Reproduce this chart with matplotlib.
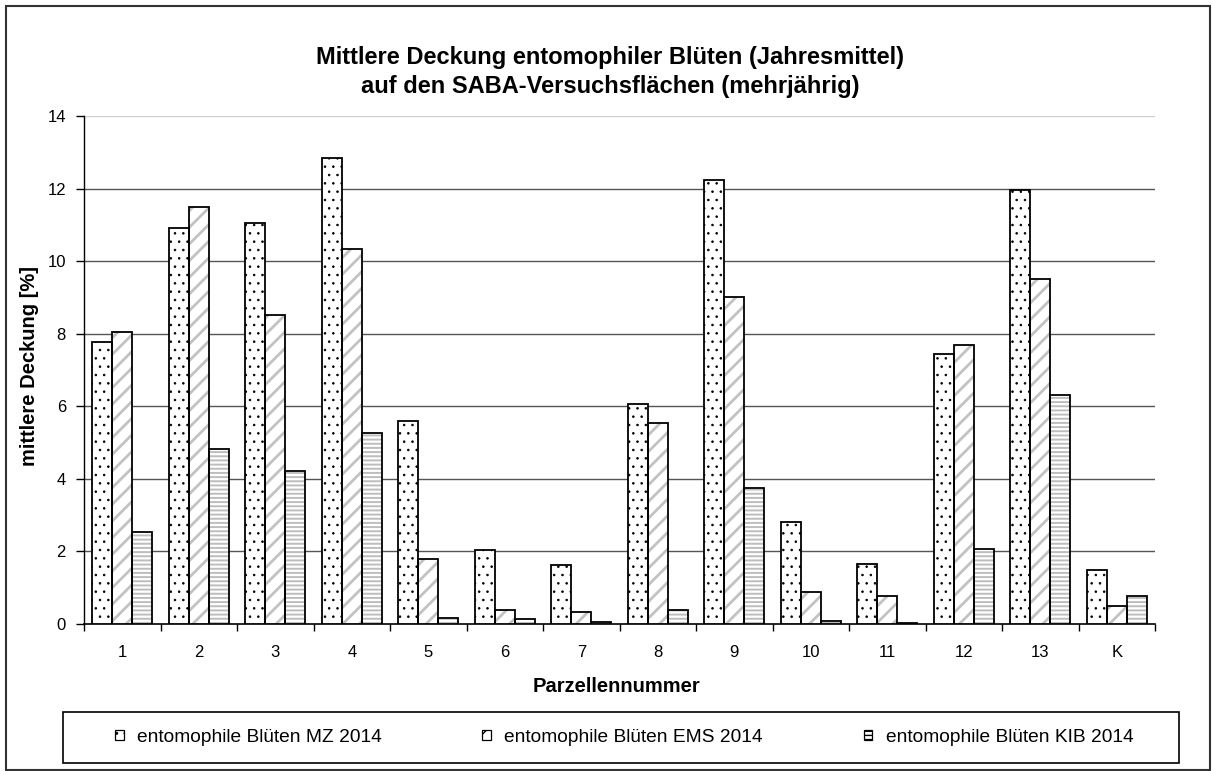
import numpy as np
import matplotlib.pyplot as plt
from matplotlib.patches import Rectangle, Patch

plt.rcParams['font.family'] = ['Liberation Sans', 'DejaVu Sans']

# ------------ data ----------------------------------
parzellen = ['1', '2', '3', '4', '5', '6', '7', '8', '9', '10', '11', '12', '13', 'K']
mz_2014 = [7.77, 10.91, 11.04, 12.83, 5.6, 2.04, 1.63, 6.05, 12.25, 2.8, 1.65, 7.45, 11.95, 1.5]
ems_2014 = [8.05, 11.5, 8.52, 10.34, 1.8, 0.39, 0.34, 5.55, 9.0, 0.87, 0.78, 7.68, 9.5, 0.5]
kib_2014 = [2.53, 4.82, 4.23, 5.27, 0.17, 0.13, 0.05, 0.39, 3.75, 0.09, 0.04, 2.07, 6.3, 0.78]
series_names = ['entomophile Blüten MZ 2014',
                'entomophile Blüten EMS 2014',
                'entomophile Blüten KIB 2014']
# ----------------------------------------------------

W, H = 1212, 771
fig = plt.figure(figsize=(W / 100, H / 100), dpi=100)
ax = fig.add_axes([84 / W, 1 - 624 / H, (1155 - 84) / W, (624 - 116) / H])

x = np.arange(len(parzellen))
bw = 0.26
# (hatch colour, hatch, hatch linewidth)
styles = [('black', '..', 0.6), ('#c2c2c2', '//', 2.0), ('#bdbdbd', '----', 1.4)]
handles = []
for i, (vals, (hc, hatch, hlw)) in enumerate(zip([mz_2014, ems_2014, kib_2014], styles)):
    pos = x + (i - 1) * bw
    with plt.rc_context({'hatch.linewidth': hlw}):
        # hatch layer in its own colour, then black outline on top
        ax.bar(pos, vals, bw, facecolor='white', edgecolor=hc, hatch=hatch,
               linewidth=0, zorder=3)
        ax.bar(pos, vals, bw, facecolor='none', edgecolor='black',
               linewidth=1.3, zorder=4)
        try:
            h = Patch(facecolor='white', edgecolor='black', hatch=hatch,
                      hatchcolor=hc, linewidth=0.9)
        except (AttributeError, TypeError):
            h = Patch(facecolor='white', edgecolor='black', hatch=hatch, linewidth=0.9)
    handles.append(h)

ax.set_ylim(0, 14)
ax.set_xlim(-0.5, len(parzellen) - 0.5)
ax.set_yticks(np.arange(0, 15, 2))
ax.set_xticks(x)
ax.set_xticklabels(parzellen)
ax.set_xticks(np.arange(-0.5, len(parzellen), 1), minor=True)
ax.tick_params(axis='x', which='major', length=0, labelsize=12, pad=15)
ax.tick_params(axis='x', which='minor', length=5, width=1, direction='out')
ax.tick_params(axis='y', length=6, width=1, labelsize=12, direction='out', pad=7)

for yv in range(2, 13, 2):
    ax.axhline(yv, color='#555555', linewidth=1.0, zorder=1)
ax.axhline(14, color='#d0d0d0', linewidth=1.0, zorder=1)

for s in ['top', 'right']:
    ax.spines[s].set_visible(False)
ax.spines['left'].set_linewidth(1.0)
ax.spines['bottom'].set_linewidth(1.2)

fig.text(30 / W, 1 - 366 / H, 'mittlere Deckung [%]', rotation=90,
         ha='center', va='center', fontsize=14.5, fontweight='bold')
fig.text(617 / W, 1 - 686 / H, 'Parzellennummer',
         ha='center', va='center', fontsize=14.5, fontweight='bold')

fig.text(610 / W, 1 - 72 / H,
         'Mittlere Deckung entomophiler Blüten (Jahresmittel)\nauf den SABA-Versuchsflächen (mehrjährig)',
         ha='center', va='center', fontsize=17, fontweight='bold', linespacing=1.32)

# legend box
fig.patches.append(Rectangle((63 / W, 1 - 763 / H), (1179 - 63) / W, 51 / H,
                             transform=fig.transFigure, facecolor='none',
                             edgecolor='black', linewidth=1.2))
fig.legend(handles, series_names, loc='center left', ncol=3, frameon=False,
           bbox_to_anchor=(115 / W, 1 - 737.5 / H), fontsize=13.8,
           borderpad=0, borderaxespad=0,
           handlelength=0.45, handleheight=0.45, handletextpad=0.7,
           columnspacing=5.25)

# outer border
fig.patches.append(Rectangle((6 / W, 1 / H), 1204 / W, 764 / H,
                             transform=fig.transFigure, facecolor='none',
                             edgecolor='#333333', linewidth=1.5))

fig.savefig('out.png', dpi=100)
